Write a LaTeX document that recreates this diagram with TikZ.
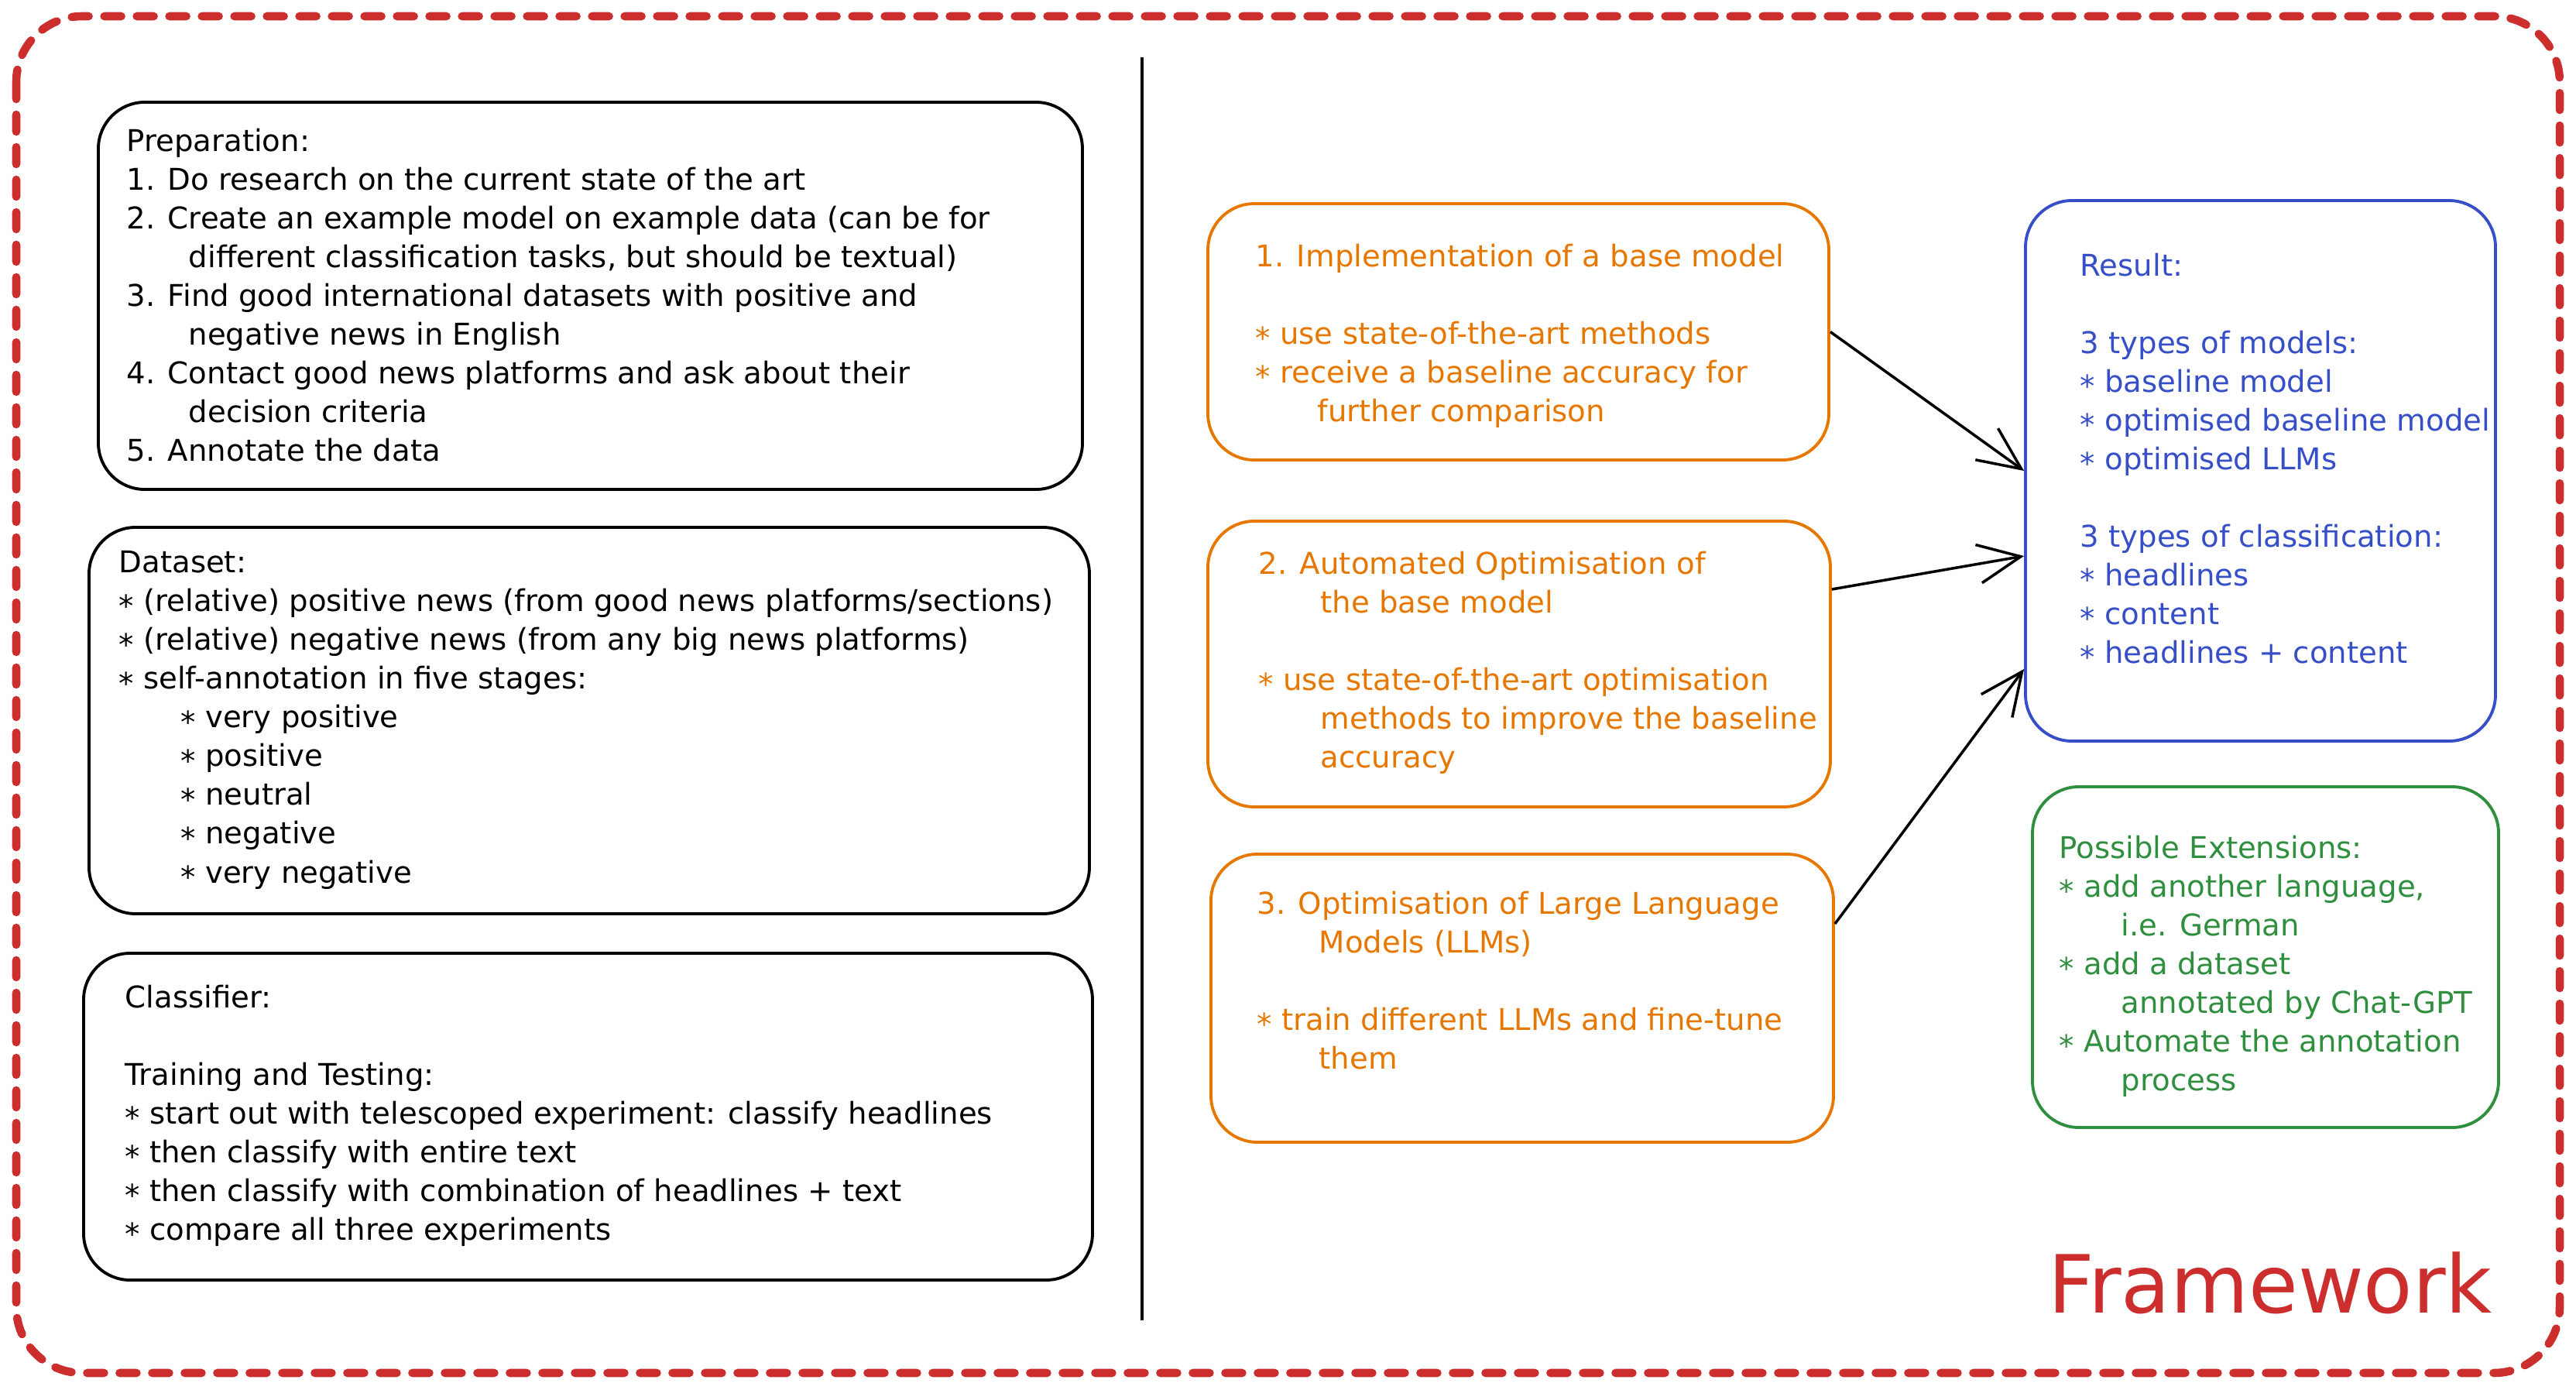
\documentclass[tikz,border=0pt]{standalone}
\usepackage{fontspec}
\setmainfont{DejaVu Sans}
\usepackage{tikz}
\usetikzlibrary{arrows.meta}

\definecolor{fwred}{RGB}{204,45,45}
\definecolor{orng}{RGB}{230,119,0}
\definecolor{blu}{RGB}{54,79,199}
\definecolor{grn}{RGB}{47,143,63}

\newcommand{\bp}{\raisebox{-0.3ex}{*}}
\newcommand{\cind}{\hspace*{0.8cm}}

\begin{document}
\begin{tikzpicture}[
    box/.style={draw, line width=1.1pt, rounded corners=0.6cm, inner sep=0pt},
    txt/.style={anchor=north west, inner sep=0pt, align=left,
      font=\fontsize{11}{14.23}\selectfont, execute at begin node=\strut},
    arr/.style={-{Straight Barb[length=5.5mm,width=5mm]}, line width=1pt}
  ]
  \useasboundingbox (0,0) rectangle (33.27,-17.95);

  \draw[fwred, line width=3pt, line cap=round, dash pattern=on 0.22cm off 0.2cm,
    rounded corners=0.85cm] (0.21,-0.21) rectangle (33.06,-17.73);
  \draw[line width=1pt] (14.75,-0.74) -- (14.75,-17.05);

  % left column
  \node[box, minimum width=12.71cm, minimum height=5.00cm] (P) at (7.625,-3.82) {};
  \node[box, minimum width=12.92cm, minimum height=4.99cm] (D) at (7.61,-9.305) {};
  \node[box, minimum width=13.03cm, minimum height=4.22cm] (C) at (7.595,-14.42) {};

  \node[txt] (PT) at (1.63,-1.65) {Preparation:\\
    1. Do research on the current state of the art\\
    2. Create an example model on example data (can be for\\
    \cind different classification tasks, but should be textual)\\
    3. Find good international datasets with positive and\\
    \cind negative news in English\\
    4. Contact good news platforms and ask about their\\
    \cind decision criteria\\
    5. Annotate the data};
  \node[txt] (DT) at (1.53,-7.11) {Dataset:\\
    \bp{} (relative) positive news (from good news platforms/sections)\\
    \bp{} (relative) negative news (from any big news platforms)\\
    \bp{} self-annotation in five stages:\\
    \cind\bp{} very positive\\
    \cind\bp{} positive\\
    \cind\bp{} neutral\\
    \cind\bp{} negative\\
    \cind\bp{} very negative};
  \node[txt] (CT) at (1.61,-12.71) {Classifier:\\[0.5cm]
    Training and Testing:\\
    \bp{} start out with telescoped experiment: classify headlines\\
    \bp{} then classify with entire text\\
    \bp{} then classify with combination of headlines + text\\
    \bp{} compare all three experiments};

  % middle column
  \node[box, orng, minimum width=8.02cm, minimum height=3.31cm] (B1) at (19.61,-4.285) {};
  \node[box, orng, minimum width=8.04cm, minimum height=3.69cm] (B2) at (19.62,-8.575) {};
  \node[box, orng, minimum width=8.04cm, minimum height=3.72cm] (B3) at (19.66,-12.89) {};

  \node[txt, text=orng] (B1T) at (16.21,-3.14) {1. Implementation of a base model\\[0.5cm]
    \bp{} use state-of-the-art methods\\
    \bp{} receive a baseline accuracy for\\
    \cind further comparison};
  \node[txt, text=orng] (B2T) at (16.25,-7.11) {2. Automated Optimisation of\\
    \cind the base model\\[0.5cm]
    \bp{} use state-of-the-art optimisation\\
    \cind methods to improve the baseline\\
    \cind accuracy};
  \node[txt, text=orng] (B3T) at (16.23,-11.50) {3. Optimisation of Large Language\\
    \cind Models (LLMs)\\[0.5cm]
    \bp{} train different LLMs and fine-tune\\
    \cind them};

  % right column
  \node[box, blu, minimum width=6.07cm, minimum height=6.98cm] (R) at (29.195,-6.08) {};
  \node[box, grn, minimum width=6.02cm, minimum height=4.40cm] (E) at (29.26,-12.36) {};

  \node[txt, text=blu] (RT) at (26.86,-3.26) {Result:\\[0.5cm]
    3 types of models:\\
    \bp{} baseline model\\
    \bp{} optimised baseline model\\
    \bp{} optimised LLMs\\[0.5cm]
    3 types of classification:\\
    \bp{} headlines\\
    \bp{} content\\
    \bp{} headlines + content};
  \node[txt, text=grn] (ET) at (26.59,-10.78) {Possible Extensions:\\
    \bp{} add another language,\\
    \cind i.e. German\\
    \bp{} add a dataset\\
    \cind annotated by Chat-GPT\\
    \bp{} Automate the annotation\\
    \cind process};

  \node[text=fwred, font=\fontsize{29.5}{36}\selectfont] (FW) at (29.32,-16.57) {Framework};

  \draw[arr] (B1.east) -- (R.west);
  \draw[arr] ([yshift=0.965cm]B2.east) -- ([yshift=-1.1cm]R.west);
  \draw[arr] ([yshift=0.96cm]B3.east) -- ([yshift=-2.56cm]R.west);
\end{tikzpicture}
\end{document}
